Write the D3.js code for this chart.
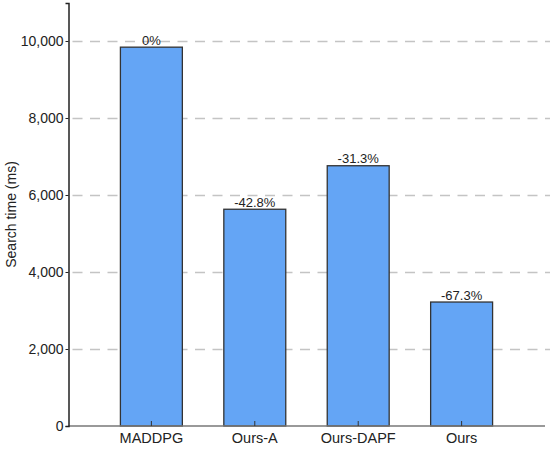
<!DOCTYPE html>
<html><head><meta charset="utf-8">
<script src="https://cdn.jsdelivr.net/npm/d3@7"></script>
<style>body{margin:0;background:#fff}svg{display:block}text{font-family:"Liberation Sans",Arial,sans-serif}</style>
</head><body>
<svg id="c" width="550" height="449"></svg>
<script>
const categories = ["MADDPG","Ours-A","Ours-DAPF","Ours"];
const values = [9840, 5630, 6760, 3220];
const labels = ["0%","-42.8%","-31.3%","-67.3%"];
const yTicks = [0,2000,4000,6000,8000,10000];

const svg = d3.select("#c");
const L = 68.5, R = 545, T = 3, B = 426;
const x = d3.scaleBand().domain(categories).range([L, 544.5]).paddingInner(0.401).paddingOuter(0.502);
const y = d3.scaleLinear().domain([0, 10987]).range([B, T]);

// grid
svg.append("g").selectAll("line").data(yTicks.filter(d=>d>0)).join("line")
  .attr("x1", L+4).attr("x2", 550).attr("y1", d=>Math.round(y(d))+0.5).attr("y2", d=>Math.round(y(d))+0.5)
  .attr("stroke","#c4c4c4").attr("stroke-width",1.4).attr("stroke-dasharray","10,7.5");

// bars
svg.append("g").selectAll("rect").data(values).join("rect")
  .attr("x",(d,i)=>x(categories[i])).attr("width",x.bandwidth())
  .attr("y",d=>y(d)).attr("height",d=>B-y(d))
  .attr("fill","#64a5f5").attr("stroke","#333").attr("stroke-width",1.3);

svg.append("g").selectAll("text").data(values).join("text")
  .attr("x",(d,i)=>x(categories[i])+x.bandwidth()/2).attr("y",d=>y(d)-2.5)
  .attr("text-anchor","middle").attr("font-size",13).attr("fill","#222")
  .text((d,i)=>labels[i]);

// x axis
const xa = svg.append("g").attr("transform",`translate(0,${B})`);
xa.append("line").attr("x1",L).attr("x2",R).attr("stroke","#777").attr("stroke-width",1.5);
xa.selectAll("line.t").data(categories).join("line").attr("class","t")
  .attr("x1",d=>x(d)+x.bandwidth()/2).attr("x2",d=>x(d)+x.bandwidth()/2)
  .attr("y1",0).attr("y2",-5).attr("stroke","#333").attr("stroke-width",1);
xa.selectAll("text").data(categories).join("text")
  .attr("x",d=>x(d)+x.bandwidth()/2).attr("y",17)
  .attr("text-anchor","middle").attr("font-size",14.5).attr("fill","#222").text(d=>d);

// y axis
const ya = svg.append("g").attr("transform",`translate(${L},0)`)
  .call(d3.axisLeft(y).tickValues(yTicks).tickSize(3).tickPadding(2).tickFormat(d3.format(",")));
ya.select(".domain").attr("stroke","#222").attr("stroke-width",1.5);
ya.selectAll(".tick line").attr("stroke","#222");
ya.selectAll(".tick text").attr("font-size",14).attr("fill","#222").style("font-family",'"Liberation Sans",Arial,sans-serif');

svg.append("text").attr("transform",`translate(16,${(T+B)/2}) rotate(-90)`)
  .attr("text-anchor","middle").attr("font-size",14).attr("fill","#222").text("Search time (ms)");
</script>
</body></html>
